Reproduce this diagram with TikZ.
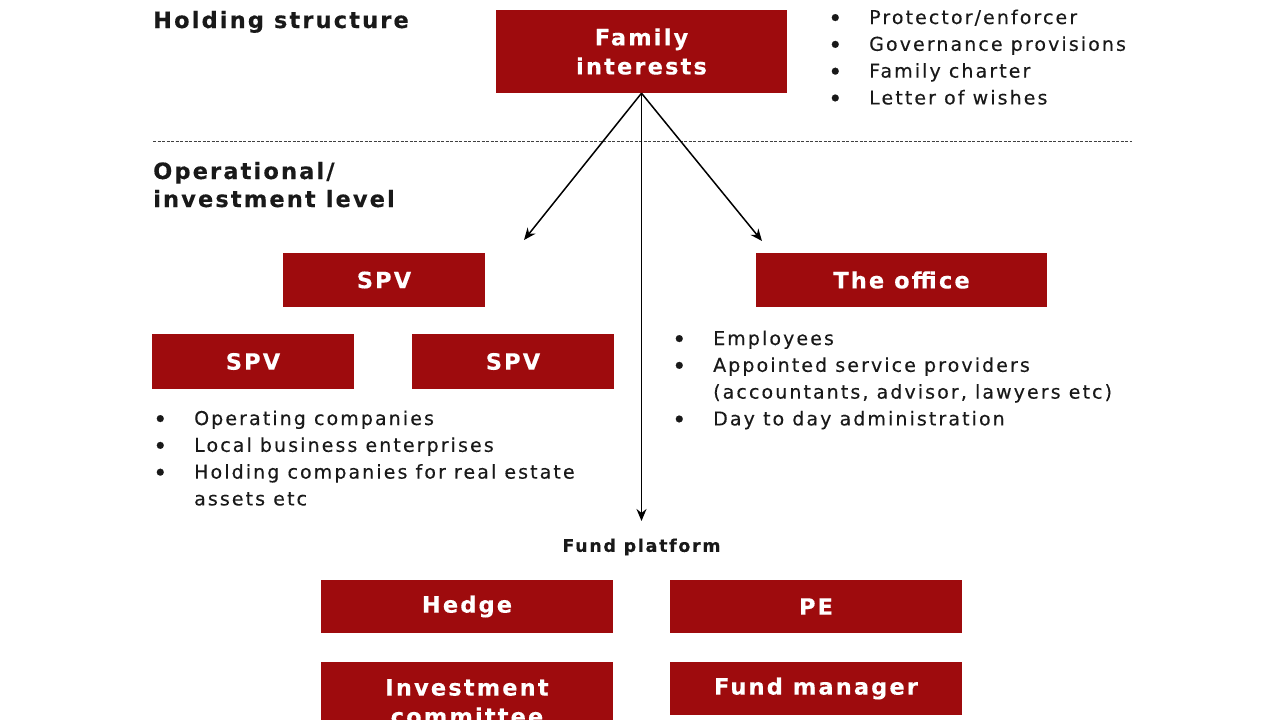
\documentclass[tikz,border=0pt]{standalone}
\usepackage{fontspec}
\setmainfont{DejaVu Sans}[LetterSpace=11, FakeBold=0.3, BoldFeatures={LetterSpace=9.5}]
\usepackage{xcolor}
\usepackage{tikz}
\usetikzlibrary{arrows,arrows.meta,positioning}
\definecolor{boxred}{RGB}{158, 11, 13}
\newcommand{\bl}{\makebox[37pt][l]{\hspace*{-4pt}\raisebox{-2.5pt}{\fontsize{24}{24}\selectfont\textbullet}}}
\tikzset{
  redbox/.style={rectangle, fill=boxred, text=white, inner sep=0pt, align=center,
    font=\fontsize{22.5}{29}\selectfont\bfseries},
  heading/.style={anchor=base west, inner sep=0pt, align=left,
    font=\fontsize{22.5}{28}\selectfont\bfseries, text=black!90},
  bulletlist/.style={anchor=base west, inner sep=0pt, align=left,
    font=\fontsize{19}{26.8}\selectfont, text=black!90},
  link/.style={->, line width=1.5pt}
}

\begin{document}
\begin{tikzpicture}[x=1pt, y=-1pt, >={Stealth[length=12pt, width=10pt]}]
        \useasboundingbox (0, 0) rectangle (1280, 720);
        \fill[white] (0, 0) rectangle (1280, 720);

        % Headings
        \node[heading] (hold) at (153, 28) {Holding structure};
        \node[heading] (oper) at (153, 207) {Operational/\\investment level};
        \draw[dash pattern=on 3pt off 1.5pt, line width=0.8pt, black!75] (153, 141) -- (1132, 141);

        % Boxes
        \node[redbox, minimum width=291pt, minimum height=83pt] (family) at (641.5, 51.5) {Family\\interests};
        \node[redbox, minimum width=202pt, minimum height=54pt] (spvtop) at (384, 280) {SPV};
        \node[redbox, minimum width=202pt, minimum height=55pt] (spvleft) at (253, 361.5) {SPV};
        \node[redbox, minimum width=202pt, minimum height=55pt] (spvright) at (513, 361.5) {SPV};
        \node[redbox, minimum width=291pt, minimum height=54pt] (office) at (901.5, 280) {The office};
        \node[redbox, minimum width=292pt, minimum height=53pt] (hedge) at (467, 606.5) {Hedge};
        \node[redbox, minimum width=292pt, minimum height=53pt] (pe) at (816, 606.5) {PE};
        \node[redbox, minimum width=292pt, minimum height=80pt] (invest) at (467, 702) {Investment\\committee};
        \node[redbox, minimum width=292pt, minimum height=53pt] (fundman) at (816, 688.5) {Fund manager};

        \node[font=\fontsize{17.5}{20}\selectfont\bfseries, text=black!90, inner sep=0pt] (platform) at (641.5, 547) {Fund platform};

        % Bullet lists
        \node[bulletlist] (rules) at (832, 24) {\begin{tabular}[t]{@{}l@{}}
            \bl Protector/enforcer\\
            \bl Governance provisions\\
            \bl Family charter\\
            \bl Letter of wishes
          \end{tabular}};
        \node[bulletlist] (spvlist) at (157, 425) {\begin{tabular}[t]{@{}l@{}}
            \bl Operating companies\\
            \bl Local business enterprises\\
            \bl Holding companies for real estate\\
            \hspace*{37pt}assets etc
          \end{tabular}};
        \node[bulletlist] (officelist) at (676, 345) {\begin{tabular}[t]{@{}l@{}}
            \bl Employees\\
            \bl Appointed service providers\\
            \hspace*{37pt}(accountants, advisor, lawyers etc)\\
            \bl Day to day administration
          \end{tabular}};

        % Arrows
        \coordinate (toSPV) at (524, 240);
        \coordinate (toOffice) at (762, 241);
        \coordinate (toFund) at (family.south |- 0, 521);
        \draw[link] (family.south) -- (toSPV);
        \draw[link] (family.south) -- (toOffice);
        \draw[link] (family.south) -- (toFund);
    \end{tikzpicture}
\end{document}
